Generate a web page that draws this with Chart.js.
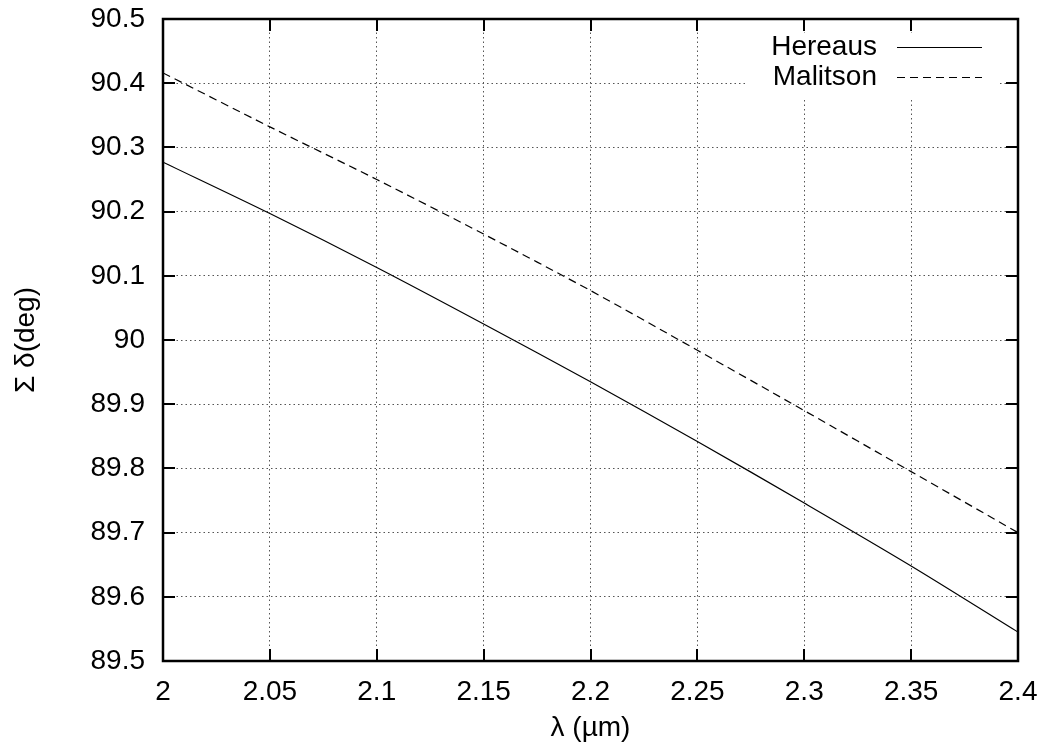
<!DOCTYPE html>
<html>
<head>
<meta charset="utf-8">
<script src="https://cdn.jsdelivr.net/npm/chart.js@4.4.1/dist/chart.umd.min.js"></script>
<style>
  body { margin: 0; background: #fff; }
  #wrap { width: 1044px; height: 755px; }
</style>
</head>
<body>
<div id="wrap"><canvas id="chart" width="1044" height="755"></canvas></div>
<script>
const wavelength = [2.0, 2.05, 2.1, 2.15, 2.2, 2.25, 2.3, 2.35, 2.4];
const hereaus = [90.277, 90.197, 90.113, 90.025, 89.935, 89.842, 89.746, 89.648, 89.545];
const malitson = [90.416, 90.332, 90.250, 90.165, 90.077, 89.984, 89.890, 89.795, 89.700];

const xTicks = [2, 2.05, 2.1, 2.15, 2.2, 2.25, 2.3, 2.35, 2.4];
const xTickLabels = ["2", "2.05", "2.1", "2.15", "2.2", "2.25", "2.3", "2.35", "2.4"];
const yTicks = [89.5, 89.6, 89.7, 89.8, 89.9, 90, 90.1, 90.2, 90.3, 90.4, 90.5];
const yTickLabels = ["89.5", "89.6", "89.7", "89.8", "89.9", "90", "90.1", "90.2", "90.3", "90.4", "90.5"];

const seriesNames = ["Hereaus", "Malitson"];

const FONT = "'Liberation Sans', Arial, Helvetica, sans-serif";

function points(ys) {
    return wavelength.map((x, i) => ({ x: x, y: ys[i] }));
}

function noOverflow(s) {
    s.paddingTop = 0;
    s.paddingBottom = 0;
    s.paddingLeft = 0;
    s.paddingRight = 0;
}

/* frame, inward ticks and the key, gnuplot style */
const framePlugin = {
    id: "frame",
    afterDatasetsDraw(chart) {
        const ctx = chart.ctx;
        const a = chart.chartArea;
        const xs = chart.scales.x;
        const ys = chart.scales.y;
        ctx.save();

        // key background hides the grid behind it
        ctx.fillStyle = "#fff";
        ctx.fillRect(745, 33, 255, 64);

        ctx.font = "28px " + FONT;
        ctx.fillStyle = "#000";
        ctx.textAlign = "right";
        ctx.textBaseline = "middle";
        const keyRows = [47, 77];
        seriesNames.forEach((name, i) => {
            const y = keyRows[i];
            ctx.fillText(name, 877, y);
            ctx.beginPath();
            ctx.setLineDash(i === 0 ? [] : [8, 5]);
            ctx.lineWidth = 1.2;
            ctx.strokeStyle = "#000";
            ctx.moveTo(897, y + 0.5);
            ctx.lineTo(982, y + 0.5);
            ctx.stroke();
        });
        ctx.setLineDash([]);

        // ticks
        ctx.lineWidth = 2;
        ctx.strokeStyle = "#000";
        const tl = 12;
        ctx.beginPath();
        xTicks.forEach(v => {
            const px = Math.round(xs.getPixelForValue(v));
            ctx.moveTo(px, a.bottom); ctx.lineTo(px, a.bottom - tl);
            ctx.moveTo(px, a.top); ctx.lineTo(px, a.top + tl);
        });
        yTicks.forEach(v => {
            const py = Math.round(ys.getPixelForValue(v));
            ctx.moveTo(a.left, py); ctx.lineTo(a.left + tl, py);
            ctx.moveTo(a.right, py); ctx.lineTo(a.right - tl, py);
        });
        ctx.stroke();

        // border
        ctx.lineWidth = 2.5;
        ctx.strokeRect(a.left, a.top, a.right - a.left, a.bottom - a.top);
        ctx.restore();
    }
};

new Chart(document.getElementById("chart"), {
    type: "line",
    data: {
        datasets: [
            {
                label: seriesNames[0],
                data: points(hereaus),
                borderColor: "#000",
                borderWidth: 1.2,
                pointRadius: 0,
                tension: 0.3,
                fill: false
            },
            {
                label: seriesNames[1],
                data: points(malitson),
                borderColor: "#000",
                borderWidth: 1.2,
                borderDash: [8, 5],
                pointRadius: 0,
                tension: 0.3,
                fill: false
            }
        ]
    },
    options: {
        responsive: false,
        animation: false,
        layout: { padding: { top: 19, right: 26, left: 0, bottom: 0 } },
        plugins: {
            legend: { display: false },
            tooltip: { enabled: false }
        },
        scales: {
            x: {
                type: "linear",
                min: 2,
                max: 2.4,
                afterBuildTicks: s => { s.ticks = xTicks.map(v => ({ value: v })); },
                afterFit: s => { s.height = 94; noOverflow(s); },
                ticks: {
                    autoSkip: false,
                    maxRotation: 0,
                    padding: 14,
                    color: "#000",
                    font: { family: FONT, size: 28 },
                    callback: (v, i) => xTickLabels[i]
                },
                grid: { color: "#555", lineWidth: 1, drawTicks: false },
                border: { display: false, dash: [1.5, 3] },
                title: {
                    display: true,
                    text: "λ (µm)",
                    color: "#000",
                    font: { family: FONT, size: 28 },
                    padding: { top: 0, bottom: 10 }
                }
            },
            y: {
                min: 89.5,
                max: 90.5,
                afterBuildTicks: s => { s.ticks = yTicks.map(v => ({ value: v })); },
                afterFit: s => { s.width = 163; noOverflow(s); },
                ticks: {
                    autoSkip: false,
                    padding: 18,
                    color: "#000",
                    font: { family: FONT, size: 28 },
                    callback: (v, i) => yTickLabels[i]
                },
                grid: { color: "#555", lineWidth: 1, drawTicks: false },
                border: { display: false, dash: [1.5, 3] },
                title: {
                    display: true,
                    text: "Σ δ(deg)",
                    color: "#000",
                    font: { family: FONT, size: 28 },
                    padding: { top: 9, bottom: 0 }
                }
            }
        }
    },
    plugins: [framePlugin]
});
</script>
</body>
</html>
